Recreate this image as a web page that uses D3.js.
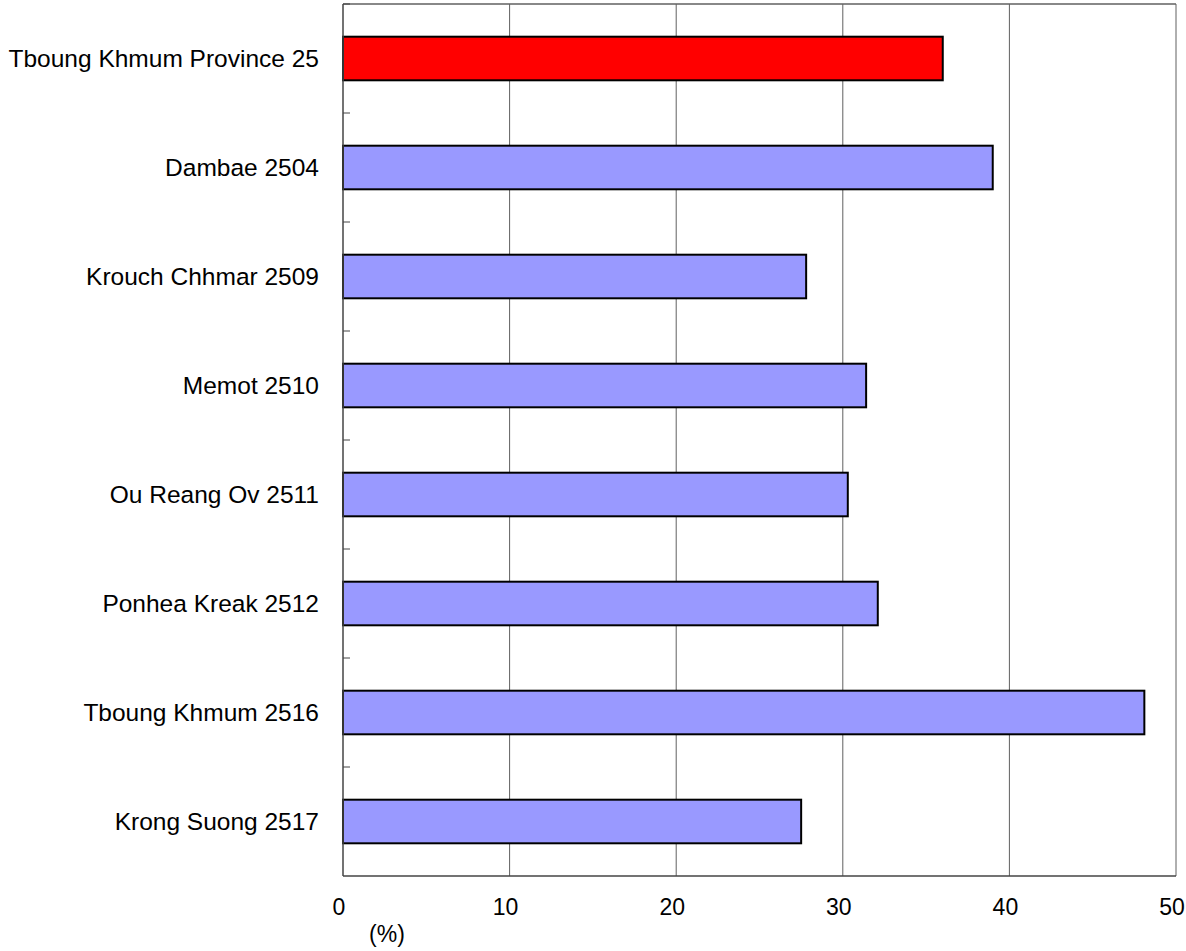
<!DOCTYPE html>
<html><head><meta charset="utf-8">
<script src="https://cdn.jsdelivr.net/npm/d3@7"></script>
<style>body{margin:0;background:#fff;} svg{display:block;font-family:"Liberation Sans",Arial,sans-serif;}</style>
</head><body>
<script>
const categories = ["Tboung Khmum Province 25","Dambae 2504","Krouch Chhmar 2509","Memot 2510","Ou Reang Ov 2511","Ponhea Kreak 2512","Tboung Khmum 2516","Krong Suong 2517"];
const values = [36.0, 39.0, 27.8, 31.4, 30.3, 32.1, 48.1, 27.5];
const barColors = ["#FF0000","#9999FF","#9999FF","#9999FF","#9999FF","#9999FF","#9999FF","#9999FF"];
const xTicks = [0,10,20,30,40,50];
const unitLabel = "(%)";

const W = 1186, H = 951;
const L = 343, R = 1176, T = 4, B = 876;
const svg = d3.select("body").append("svg").attr("width", W).attr("height", H);
const x = d3.scaleLinear().domain([0,50]).range([L,R]);
const y = d3.scaleBand().domain(categories).range([T,B]).paddingInner(0.6).paddingOuter(0.3);

// gridlines
svg.append("g").selectAll("line").data(xTicks.slice(1)).join("line")
  .attr("x1", d=>x(d)).attr("x2", d=>x(d)).attr("y1", T).attr("y2", B)
  .attr("stroke", "#606060").attr("stroke-width", 1);
// top border
svg.append("line").attr("x1", L).attr("x2", R).attr("y1", T).attr("y2", T).attr("stroke","#606060").attr("stroke-width",1.5);

// bars
svg.append("g").selectAll("rect").data(values).join("rect")
  .attr("x", x(0)).attr("y", (d,i)=>y(categories[i]))
  .attr("width", d=>x(d)-x(0)).attr("height", y.bandwidth())
  .attr("fill", (d,i)=>barColors[i]).attr("stroke", "#000").attr("stroke-width", 2);

// left axis with inward ticks at band boundaries
const step = y.step();
const boundaries = d3.range(categories.length).map(i => T + i*step);
svg.append("g").selectAll("line").data(boundaries).join("line")
  .attr("x1", L).attr("x2", L+7).attr("y1", d=>d).attr("y2", d=>d)
  .attr("stroke", "#444").attr("stroke-width", 1);
svg.append("line").attr("x1", L).attr("x2", L).attr("y1", T).attr("y2", B).attr("stroke","#444").attr("stroke-width",1.5);
// bottom axis
svg.append("line").attr("x1", L).attr("x2", R).attr("y1", B).attr("y2", B).attr("stroke","#444").attr("stroke-width",1.5);

// category labels
svg.append("g").selectAll("text").data(categories).join("text")
  .attr("x", 319).attr("y", d=>y(d)+y.bandwidth()/2).attr("dy","0.35em")
  .attr("text-anchor","end").attr("font-size", 24.5).attr("fill","#000").text(d=>d);

// x tick labels
svg.append("g").selectAll("text").data(xTicks).join("text")
  .attr("x", d=>x(d)-4).attr("y", 915).attr("text-anchor","middle")
  .attr("font-size", 23).attr("fill","#000").text(d=>d);

svg.append("text").attr("x", 387).attr("y", 942).attr("text-anchor","middle")
  .attr("font-size", 23).attr("fill","#000").text(unitLabel);
</script>
</body></html>
